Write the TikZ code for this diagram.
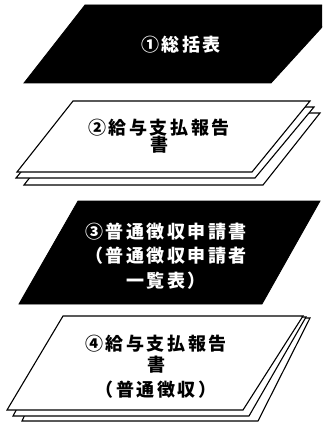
\documentclass[tikz,border=0pt]{standalone}
\usepackage{fontspec}
\newfontfamily\jp{Noto Sans CJK JP}[LetterSpace=14]
\tikzset{
  sheetdark/.style={fill=black, draw=black, line width=0.8pt, line join=miter},
  sheetlight/.style={fill=white, draw=black, line width=1.1pt, line join=miter},
  lbl/.style={align=center, font=\jp\bfseries\fontsize{18}{21}\selectfont, inner sep=0pt},
}
\begin{document}
\begin{tikzpicture}[x=1pt, y=-1pt]
\useasboundingbox (0,0) rectangle (322,422);
\clip (0,0) rectangle (322,422);
% sheet 1
\fill[sheetdark] (85,5) -- (323,5) -- (323,26) -- (271,83) -- (24,83) -- cycle;
\node[lbl, text=white] (t1) at (181,45) {①総括表};
% sheet 2 (stack)
\draw[sheetlight] (80,113) -- (320,113) -- (263,185) -- (24,185) -- cycle;
\draw[sheetlight] (75,107) -- (314,107) -- (255,178) -- (16,178) -- cycle;
\draw[sheetlight] (73,101) -- (310,101) -- (252,172) -- (17,172) -- cycle;
\node[lbl] (t2) at (159,136) {②給与支払報告\\[-4pt]書};
% sheet 3
\fill[sheetdark] (78,201) -- (320,201) -- (262,304) -- (19,304) -- cycle;
\node[lbl, text=white] (t3) at (166,256) {③普通徴収申請書\\[3.5pt]（普通徴収申請者\\[3.5pt]一覧表）};
% sheet 4 (stack)
\draw[sheetlight] (70,318) -- (310,318) -- (258,421) -- (22,421) -- cycle;
\draw[sheetlight] (66,317) -- (306,317) -- (249,416) -- (13,416) -- cycle;
\draw[sheetlight] (63,316) -- (303,316) -- (243,410) -- (7,410) -- cycle;
\node[lbl] (t4) at (156,367) {④給与支払報告\\[0pt]書\\[4pt]（普通徴収）};
\end{tikzpicture}
\end{document}
